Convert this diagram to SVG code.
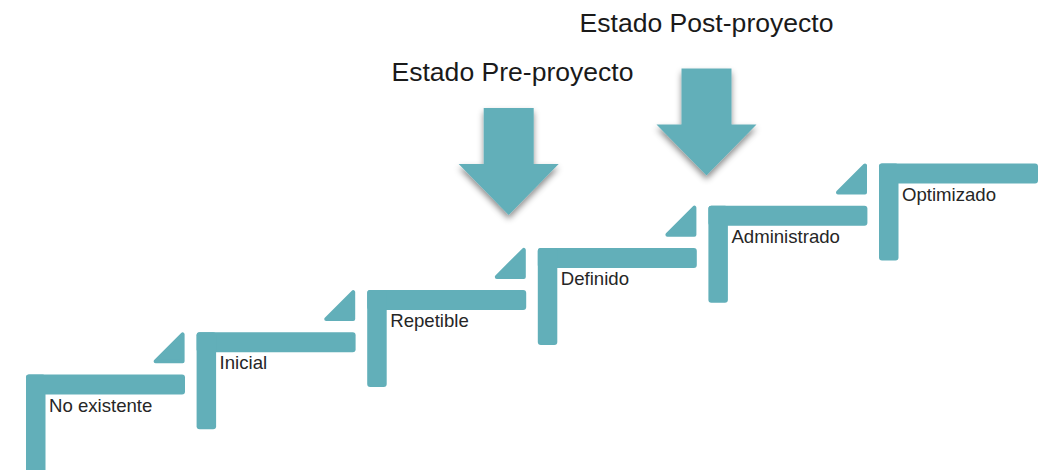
<svg xmlns="http://www.w3.org/2000/svg" xmlns:xlink="http://www.w3.org/1999/xlink" width="1047" height="470" viewBox="0 0 1047 470">
  <style>
    .bar { fill: #62afb9; }
    .tri { fill: #62afb9; stroke: #62afb9; stroke-width: 4; stroke-linejoin: round; }
    .lbl { font-family: "Liberation Sans", Arial, sans-serif; font-size: 18.6px; fill: #262626; }
    .ttl { font-family: "Liberation Sans", Arial, sans-serif; font-size: 25px; fill: #1a1a1a; }
    .arr { fill: #62afb9; filter: url(#shadow); }
  </style>
  <defs>
    <filter id="shadow" x="-30%" y="-30%" width="160%" height="170%">
      <feDropShadow dx="0" dy="4" stdDeviation="3" flood-color="#000" flood-opacity="0.45"/>
    </filter>
    <g id="stepShape">
      <rect class="bar" x="0" y="0" width="159" height="20" rx="3"/>
      <rect class="bar" x="0" y="0" width="19.5" height="97" rx="3"/>
    </g>
    <polygon id="triShape" class="tri" points="-14,2 -14,29 -41,29"/>
    <polygon id="arrowShape" points="-25,0 25,0 25,56 50,56 0,107 -50,56 -25,56"/>
  </defs>

  <rect x="0" y="0" width="1047" height="470" fill="#ffffff"/>

  <g id="step-no-existente" transform="translate(26,374.5)">
    <rect class="bar" x="0" y="0" width="159" height="20" rx="3"/>
    <rect class="bar" x="0" y="0" width="19.5" height="120" rx="3"/>
    <text class="lbl" x="23" y="37">No existente</text>
  </g>

  <g id="step-inicial" transform="translate(196.6,332.3)">
    <use xlink:href="#stepShape"/>
    <use xlink:href="#triShape"/>
    <text class="lbl" x="23" y="37">Inicial</text>
  </g>

  <g id="step-repetible" transform="translate(367.2,290.1)">
    <use xlink:href="#stepShape"/>
    <use xlink:href="#triShape"/>
    <text class="lbl" x="23" y="37">Repetible</text>
  </g>

  <g id="step-definido" transform="translate(537.8,247.9)">
    <use xlink:href="#stepShape"/>
    <use xlink:href="#triShape"/>
    <text class="lbl" x="23" y="37">Definido</text>
  </g>

  <g id="step-administrado" transform="translate(708.4,205.7)">
    <use xlink:href="#stepShape"/>
    <use xlink:href="#triShape"/>
    <text class="lbl" x="23" y="37">Administrado</text>
  </g>

  <g id="step-optimizado" transform="translate(879,163.5)">
    <use xlink:href="#stepShape"/>
    <use xlink:href="#triShape"/>
    <text class="lbl" x="23" y="37">Optimizado</text>
  </g>

  <g id="pre-proyecto">
    <text class="ttl" x="391.5" y="81" textLength="242" lengthAdjust="spacingAndGlyphs">Estado Pre-proyecto</text>
    <use class="arr" xlink:href="#arrowShape" transform="translate(508.7,108)"/>
  </g>

  <g id="post-proyecto">
    <text class="ttl" x="579.5" y="32.3" textLength="254" lengthAdjust="spacingAndGlyphs">Estado Post-proyecto</text>
    <use class="arr" xlink:href="#arrowShape" transform="translate(706.5,68.5)"/>
  </g>

  <g id="connectors"/>
</svg>
